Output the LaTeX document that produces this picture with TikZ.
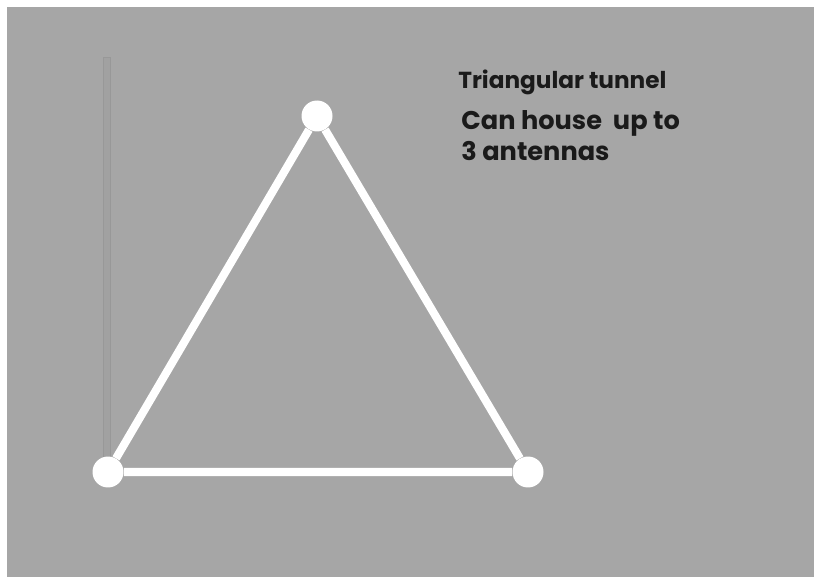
\documentclass[tikz,border=0pt]{standalone}
\usepackage{fontspec}
\setmainfont{Poppins}
\usetikzlibrary{positioning}
\definecolor{panel}{HTML}{A6A6A6}
\definecolor{pole}{HTML}{989898}
\definecolor{ink}{HTML}{1A1A1A}

\begin{document}
\begin{tikzpicture}[x=0.02cm, y=-0.02cm,
  every node/.style={font=\bfseries\fontsize{13.2}{15}\selectfont, text=ink},
  hub/.style={circle, fill=white, inner sep=0pt, minimum size=0.62cm},
  rail/.style={draw=white, line width=4.6pt},
  caption/.style={anchor=base west, inner sep=0pt},
  bigcaption/.style={caption, font=\bfseries\fontsize{14.6}{17}\selectfont}
]
\useasboundingbox (0,0) rectangle (814,577);
\fill[white] (0,0) rectangle (814,577);
\fill[panel] (7,7) rectangle (814,577);

% thin upright pole beside the tunnel
\draw[pole, line width=0.5pt, fill=panel!97!black] (103,57) rectangle (110,458);

% corners of the tunnel
\node[hub] (top) at (317,116) {};
\node[hub] (left) at (108,472) {};
\node[hub] (right) at (528,472) {};

\draw[rail] (top) -- (left) -- (right) -- (top);

% note
\node[caption] (title) at (458,89) {Triangular tunnel};
\node[bigcaption] (house) at (461,130) {Can house\ \ up to};
\node[bigcaption] (count) at (461,161) {3 antennas};
\end{tikzpicture}
\end{document}
